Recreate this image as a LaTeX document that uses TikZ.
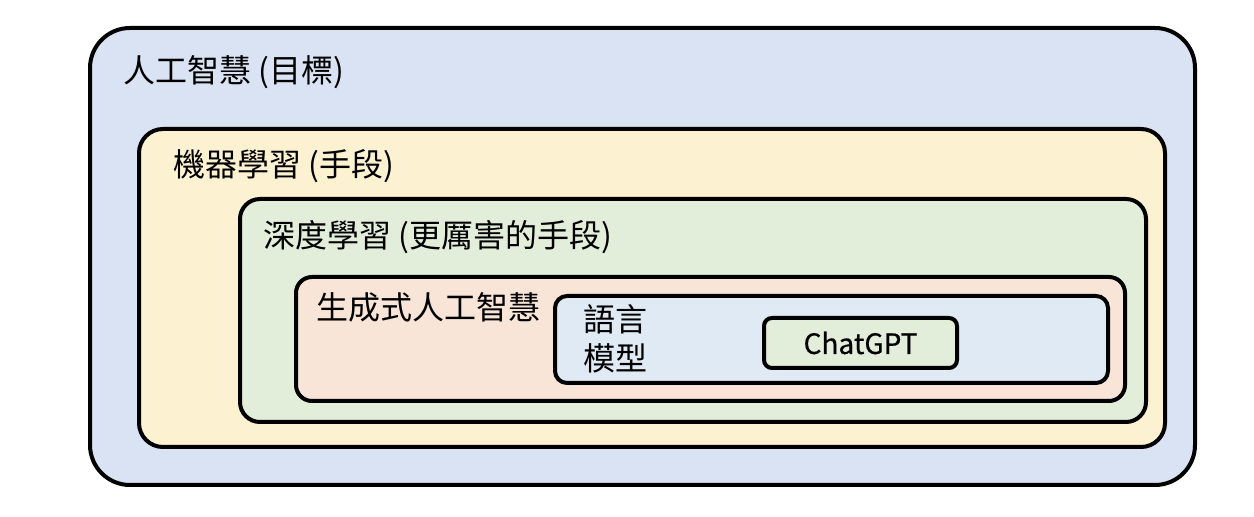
\documentclass[tikz,border=0pt]{standalone}
\usepackage{fontspec}
\setmainfont{Noto Sans CJK TC}
\definecolor{aiblue}{HTML}{DAE3F3}
\definecolor{mlyellow}{HTML}{FCF1D0}
\definecolor{dlgreen}{HTML}{E2EEDA}
\definecolor{genpeach}{HTML}{F8E5D8}
\definecolor{lmblue}{HTML}{DFEAF5}
\definecolor{gptgreen}{HTML}{E2EEDA}
\tikzset{
	layer/.style={draw=black, line width=2pt},
	lbl/.style={anchor=west, inner sep=0pt, font=\fontsize{16}{19.5}\selectfont},
}
\begin{document}
\begin{tikzpicture}[x=0.5pt,y=-0.5pt]
		\useasboundingbox (0,0) rectangle (1254,517);
		% nested layers, outermost first
		\draw[layer, fill=aiblue, rounded corners=20pt] (90,28) rectangle (1195,485);
		\draw[layer, fill=mlyellow, rounded corners=12pt] (139,129) rectangle (1165,447);
		\draw[layer, fill=dlgreen, rounded corners=10pt] (240,199) rectangle (1146,422);
		\draw[layer, fill=genpeach, rounded corners=8pt] (296,277) rectangle (1125,401);
		\draw[layer, fill=lmblue, rounded corners=6pt] (555,296) rectangle (1108,383);
		\draw[layer, fill=gptgreen, rounded corners=4pt] (764,318) rectangle (957,368);
		% labels
		\node[lbl] (ai) at (123,72) {人工智慧 (目標)};
		\node[lbl] (ml) at (173,166) {機器學習 (手段)};
		\node[lbl] (dl) at (263,237) {深度學習 (更厲害的手段)};
		\node[lbl] (gen) at (316,307) {生成式人工智慧};
		\node[lbl, align=left] (lm) at (583,339) {語言\\模型};
		\node[inner sep=0pt, font=\fontsize{14}{17}\selectfont\addfontfeature{FakeBold=0.6}] (gpt) at (860.5,343) {ChatGPT};
	\end{tikzpicture}
\end{document}
